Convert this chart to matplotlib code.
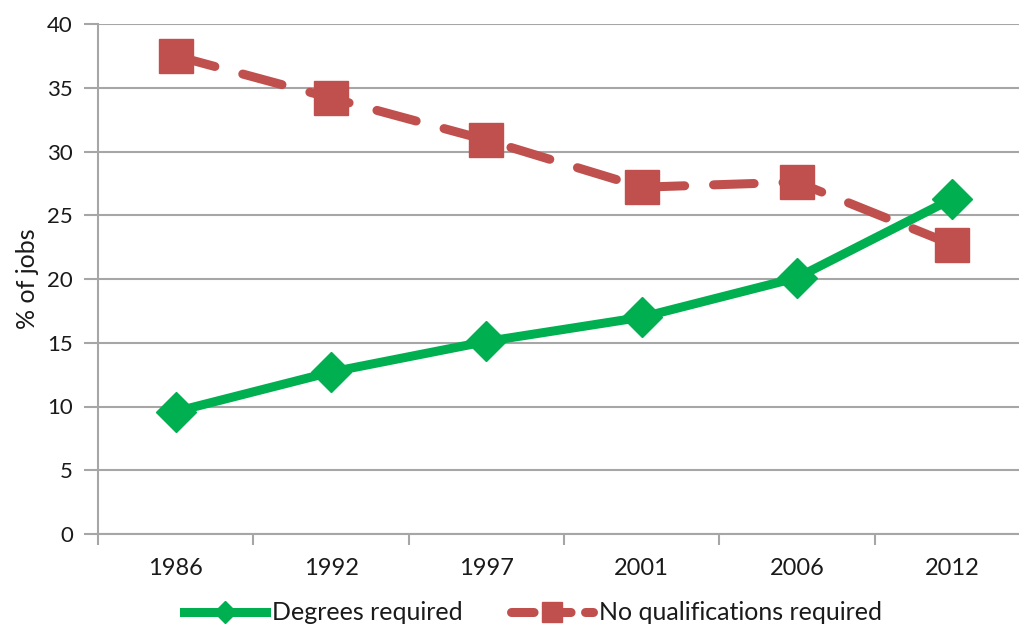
import matplotlib
matplotlib.use("Agg")
import matplotlib.pyplot as plt
from matplotlib.lines import Line2D

years = ["1986", "1992", "1997", "2001", "2006", "2012"]
degrees = [9.6, 12.7, 15.1, 17.0, 20.1, 26.3]
no_quals = [37.5, 34.2, 30.9, 27.2, 27.6, 22.7]
yticks = [0, 5, 10, 15, 20, 25, 30, 35, 40]

plt.rcParams['font.family'] = ['Lato', 'DejaVu Sans']

W, H = 1020, 626
fig = plt.figure(figsize=(W / 100, H / 100), dpi=100)
ax = fig.add_axes([98 / W, 92 / H, 932 / W, 510 / H])

green = "#00B050"
red = "#C0504D"
grid = "#A6A6A6"
txt = "#1a1a1a"

x = list(range(len(years)))
ax.plot(x, no_quals, color=red, lw=6.5, dashes=(4.5, 3.2), dash_capstyle='round',
        marker='s', ms=25, mfc=red, mec=red, zorder=3, label="No qualifications required")
ax.plot(x, degrees, color=green, lw=6.5, solid_capstyle='round',
        marker='D', ms=20, mfc=green, mec=green, zorder=4, label="Degrees required")

ax.set_xlim(-0.5, len(years) - 0.5)
ax.set_ylim(0, 40)
ax.set_yticks(yticks)
ax.set_xticks(x)
ax.set_xticklabels(years)
ax.set_xticks([i + 0.5 for i in range(len(years) - 1)] + [-0.5], minor=True)

ax.yaxis.grid(True, color=grid, lw=1.5)
ax.set_axisbelow(True)
for s in ['top', 'right']:
    ax.spines[s].set_visible(False)
for s in ['left', 'bottom']:
    ax.spines[s].set_color(grid)
    ax.spines[s].set_linewidth(1.5)

ax.tick_params(axis='y', length=10, width=1.5, color=grid, labelsize=16, pad=8, labelcolor=txt)
ax.tick_params(axis='x', which='major', length=0, labelsize=17, pad=17, labelcolor=txt)
ax.tick_params(axis='x', which='minor', length=8, width=1.5, color=grid)

ax.set_ylabel("% of jobs", fontsize=18, color=txt, labelpad=6)

handles = [
    Line2D([0], [0], color=green, lw=6.5, marker='D', ms=11, mfc=green, mec=green),
    Line2D([0], [0], color=red, lw=6.5, dashes=(2.5, 1.6), dash_capstyle='round',
           marker='s', ms=14, mfc=red, mec=red),
]
fig.legend(handles, ["Degrees required", "No qualifications required"],
           loc='center', bbox_to_anchor=(533 / W, 1 - 613 / H), ncol=2, frameon=False,
           fontsize=18, handlelength=3.3, columnspacing=1.9, handletextpad=0.25,
           labelcolor=txt, borderpad=0.1)

fig.savefig("out.png", dpi=100)
